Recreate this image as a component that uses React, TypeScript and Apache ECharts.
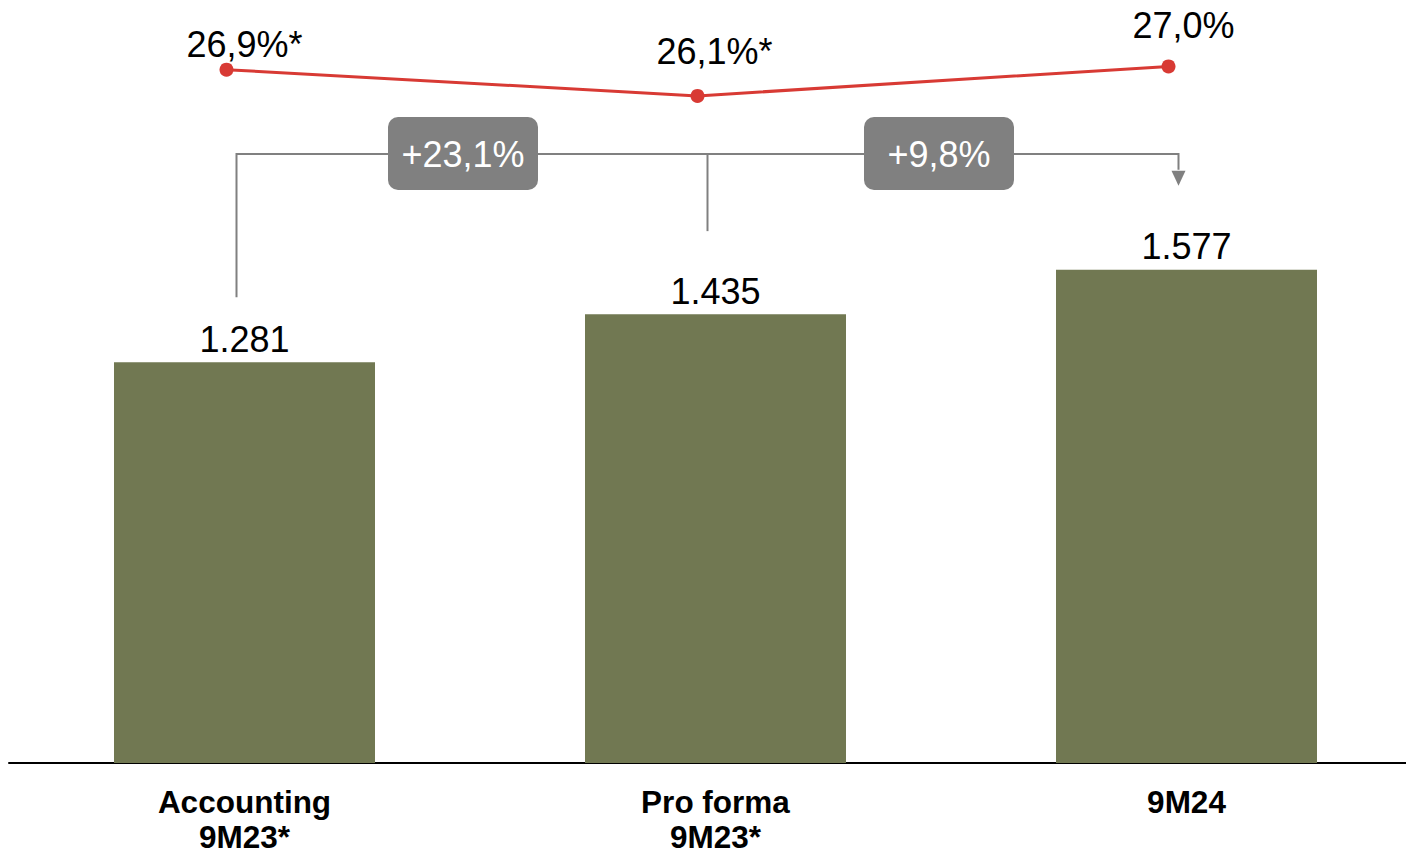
import React, { useEffect, useRef } from "react";
import * as echarts from "echarts";

const categories = ["Accounting\n9M23*", "Pro forma\n9M23*", "9M24"];
const barValues = [1281, 1435, 1577];
const marginValues = [26.9, 26.1, 27.0];
const marginSuffix = ["*", "*", ""];
const growthLabels = ["+23,1%", "+9,8%"];

const FONT = "'Liberation Sans', Arial, sans-serif";
const BAR_COLOR = "#717852";
const RED = "#d83a34";
const GRAY = "#808080";

const fmtThousands = (v: number) => {
  const t = Math.floor(v / 1000);
  const r = String(v % 1000).padStart(3, "0");
  return t > 0 ? `${t}.${r}` : String(v);
};

const labelOffsets = [
  [18, 5],
  [17, -14],
  [15, -11],
];
const boxShift = [-9, -4];

export default function App() {
  const ref = useRef<HTMLDivElement>(null);
  useEffect(() => {
    if (!ref.current) return;
    const chart = echarts.init(ref.current, undefined, { renderer: "svg" });
    chart.setOption({
      animation: false,
      textStyle: { fontFamily: FONT },
      grid: [
        { left: 9, width: 1413, top: 137.4, height: 625.6, containLabel: false, outerBoundsMode: "none" },
        { left: -9, width: 1413, top: 33.6, height: 131.2, containLabel: false, outerBoundsMode: "none" },
      ],
      xAxis: [
        {
          type: "category",
          gridIndex: 0,
          data: categories,
          axisLine: { show: true, lineStyle: { color: "#000", width: 2 } },
          axisTick: { show: false },
          axisLabel: {
            margin: 21,
            color: "#000",
            fontFamily: FONT,
            fontWeight: "bold",
            fontSize: 31.5,
            lineHeight: 35,
          },
        },
        {
          type: "category",
          gridIndex: 1,
          data: categories,
          show: false,
        },
      ],
      yAxis: [
        { type: "value", gridIndex: 0, min: 0, max: 2000, show: false },
        { type: "value", gridIndex: 1, min: 24, max: 28, show: false },
      ],
      series: [
        {
          type: "bar",
          xAxisIndex: 0,
          yAxisIndex: 0,
          data: barValues,
          barWidth: 261,
          itemStyle: { color: BAR_COLOR },
          label: {
            show: true,
            position: "top",
            distance: 5,
            color: "#000",
            fontFamily: FONT,
            fontSize: 36,
            formatter: (p: any) => fmtThousands(p.value),
          },
        },
        {
          type: "line",
          xAxisIndex: 1,
          yAxisIndex: 1,
          data: marginValues.map((v, i) => ({
            value: v,
            label: { offset: labelOffsets[i] },
          })),
          symbol: "circle",
          symbolSize: 14,
          lineStyle: { color: RED, width: 3 },
          itemStyle: { color: RED },
          label: {
            show: true,
            position: "top",
            distance: 5,
            color: "#000",
            fontFamily: FONT,
            fontSize: 36,
            formatter: (p: any) =>
              p.value.toFixed(1).replace(".", ",") + "%" + marginSuffix[p.dataIndex],
          },
        },
      ],
    });

    const px = barValues.map((v, i) => chart.convertToPixel({ gridIndex: 0 }, [i, v]) as number[]);
    const lineY = 154;
    const xs = px.map((p) => p[0] - 8);
    const graphics: any[] = [];
    const stroke = { stroke: GRAY, lineWidth: 2, fill: "none" };
    graphics.push({
      type: "polyline",
      shape: { points: [[xs[0], px[0][1] - 65], [xs[0], lineY], [xs[2], lineY], [xs[2], px[2][1] - 100]] },
      style: stroke,
      z: 10,
    });
    graphics.push({
      type: "line",
      shape: { x1: xs[1], y1: lineY, x2: xs[1], y2: px[1][1] - 83 },
      style: stroke,
      z: 10,
    });
    const tipY = px[2][1] - 84;
    graphics.push({
      type: "polygon",
      shape: { points: [[xs[2] - 7, tipY - 15], [xs[2] + 7, tipY - 15], [xs[2], tipY]] },
      style: { fill: GRAY },
      z: 10,
    });
    for (let k = 0; k < 2; k++) {
      const cx = (xs[k] + xs[k + 1]) / 2 + boxShift[k];
      graphics.push({
        type: "rect",
        shape: { x: cx - 75, y: lineY - 37, width: 150, height: 73, r: 10 },
        style: { fill: GRAY },
        z: 20,
      });
      graphics.push({
        type: "text",
        x: cx,
        y: lineY,
        style: {
          text: growthLabels[k],
          fill: "#fff",
          font: `36px ${FONT}`,
          align: "center",
          verticalAlign: "middle",
        },
        z: 21,
      });
    }
    chart.setOption({ graphic: graphics });
    return () => chart.dispose();
  }, []);
  return (
    <div
      ref={ref}
      style={{ position: "absolute", left: 0, top: 0, width: 1406, height: 854, background: "#fff" }}
    />
  );
}
